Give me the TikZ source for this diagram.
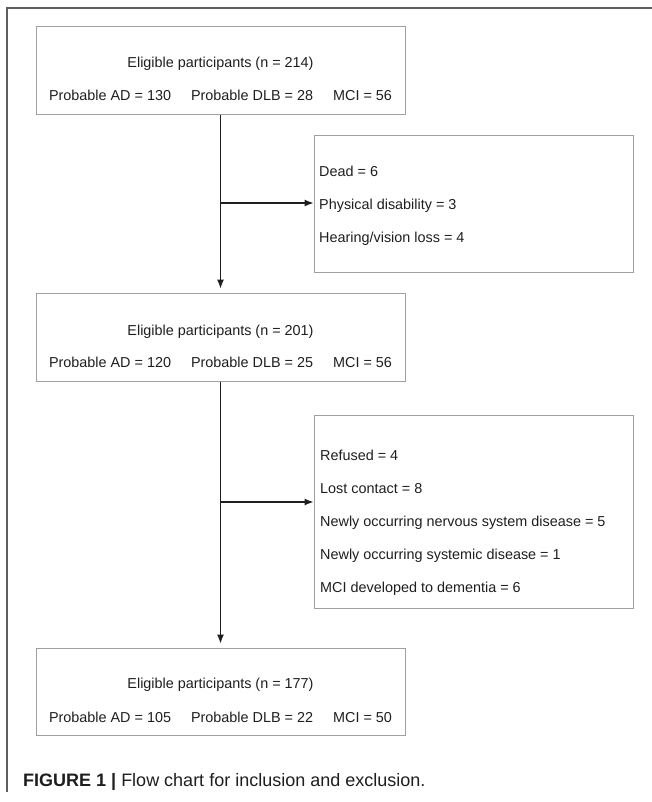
\documentclass[tikz,border=0pt]{standalone}
\usepackage{fontspec}
\setmainfont{Liberation Sans}
\usepackage{xcolor}
\usepackage{tikz}
\usetikzlibrary{positioning,arrows.meta}
\definecolor{boxgray}{HTML}{A0A0A0}
\definecolor{framegray}{HTML}{5E5E5E}
\definecolor{inkblack}{HTML}{1E1E1E}
\tikzset{stagebox/.style={draw=boxgray,line width=1pt,minimum width=369pt,minimum height=88pt,inner sep=0pt},
         exclbox/.style={draw=boxgray,line width=1pt,minimum width=319pt,inner sep=0pt},
         txt/.style={font=\fontsize{14.4}{17}\selectfont,text=inkblack,inner sep=0pt},
         conn/.style={draw=inkblack,line width=1.2pt}}

\begin{document}
\begin{tikzpicture}[x=1pt,y=-1pt,>={Latex[length=9pt,width=7pt]}]
    \useasboundingbox (0,0) rectangle (652,802);
    \draw [framegray,line width=1.5pt] (652,8) -- (7,8) -- (7,792);

    \node[stagebox] (elig1) at (220.5,71) {};
    \node[stagebox] (elig2) at (220.5,337) {};
    \node[stagebox,minimum height=87pt] (elig3) at (220.5,691.5) {};
    \node[exclbox,minimum height=136pt] (dead) at (473.5,204) {};
    \node[exclbox,minimum height=193pt] (drop) at (473.5,511.5) {};

    \node[txt,anchor=base] (elig1a) at (220.5,68) {Eligible participants (n = 214)};
    \node[txt,anchor=base] (elig1b) at (220.5,101) {Probable AD = 130\hspace{20pt}Probable DLB = 28\hspace{20pt}MCI = 56};
    \node[txt,anchor=base] (elig2a) at (220.5,335) {Eligible participants (n = 201)};
    \node[txt,anchor=base] (elig2b) at (220.5,367) {Probable AD = 120\hspace{20pt}Probable DLB = 25\hspace{20pt}MCI = 56};
    \node[txt,anchor=base] (elig3a) at (220.5,688) {Eligible participants (n = 177)};
    \node[txt,anchor=base] (elig3b) at (220.5,722) {Probable AD = 105\hspace{20pt}Probable DLB = 22\hspace{20pt}MCI = 50};

    \node[txt,anchor=base west] (deada) at (319,177) {Dead = 6};
    \node[txt,anchor=base west] (deadb) at (319,210) {Physical disability = 3};
    \node[txt,anchor=base west] (deadc) at (319,243) {Hearing/vision loss = 4};

    \node[txt,anchor=base west] (dropa) at (320,460) {Refused = 4};
    \node[txt,anchor=base west] (dropb) at (320,493) {Lost contact = 8};
    \node[txt,anchor=base west] (dropc) at (320,526) {Newly occurring nervous system disease = 5};
    \node[txt,anchor=base west] (dropd) at (320,559) {Newly occurring systemic disease = 1};
    \node[txt,anchor=base west] (drope) at (320,592) {MCI developed to dementia = 6};

    \coordinate (split1) at (220.5,203);
    \coordinate (split2) at (220.5,502);
    \draw [conn,->,shorten >=4pt] (elig1) -- (elig2);
    \draw [conn,->] (split1) -- (split1 -| dead.west);
    \draw [conn,->,shorten >=4pt] (elig2) -- (elig3);
    \draw [conn,->] (split2) -- (split2 -| drop.west);

    \node[anchor=base west,inner sep=0pt,font=\fontsize{18}{22}\selectfont,text=inkblack] (caption) at (23,786)
        {\textbf{FIGURE 1 |} Flow chart for inclusion and exclusion.};
\end{tikzpicture}
\end{document}
